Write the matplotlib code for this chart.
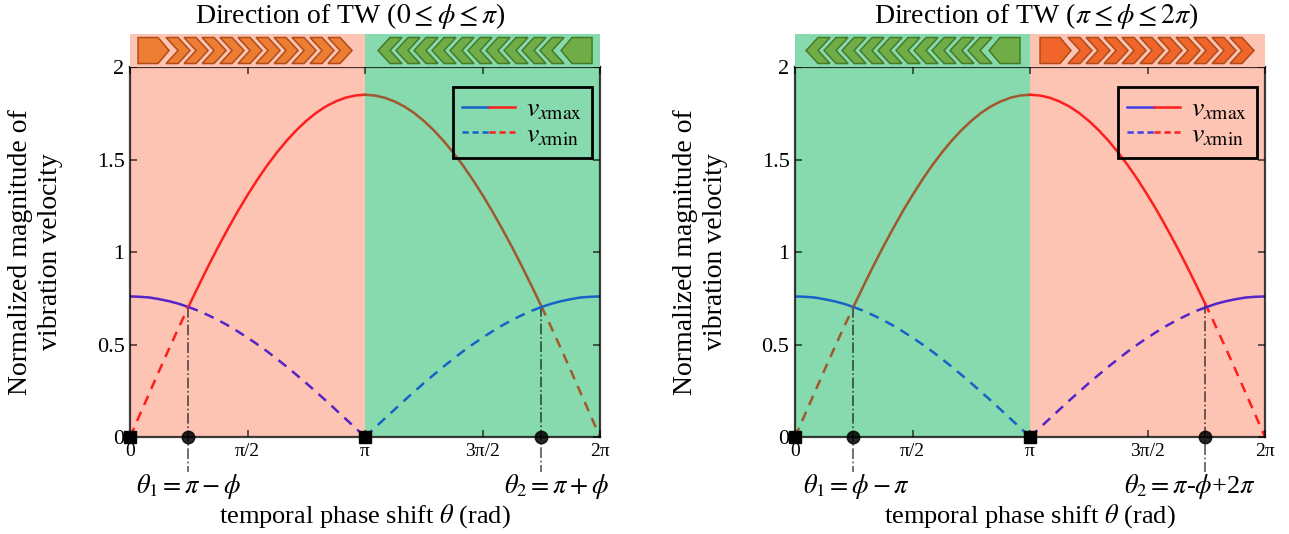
import numpy as np
import matplotlib
matplotlib.use("Agg")
import matplotlib.pyplot as plt
from matplotlib.lines import Line2D
from matplotlib.patches import Polygon, Rectangle
from matplotlib.legend_handler import HandlerTuple

plt.rcParams['font.family'] = ['Liberation Serif', 'DejaVu Serif']
plt.rcParams['mathtext.fontset'] = 'stix'

# sample points of theta (multiples of pi/24) and values
theta = np.arange(49) * np.pi / 24
amp_a = [0.000, 0.121, 0.241, 0.361, 0.479, 0.595, 0.708, 0.818, 0.925, 1.028, 1.126, 1.220,
         1.308, 1.391, 1.468, 1.538, 1.602, 1.659, 1.709, 1.752, 1.787, 1.814, 1.834, 1.846,
         1.850,
         1.846, 1.834, 1.814, 1.787, 1.752, 1.709, 1.659, 1.602, 1.538, 1.468, 1.391, 1.308,
         1.220, 1.126, 1.028, 0.925, 0.818, 0.708, 0.595, 0.479, 0.361, 0.241, 0.121, 0.000]
amp_b = [0.760, 0.758, 0.754, 0.745, 0.734, 0.720, 0.702, 0.682, 0.658, 0.632, 0.603, 0.571,
         0.537, 0.501, 0.463, 0.422, 0.380, 0.336, 0.291, 0.244, 0.197, 0.148, 0.099, 0.050,
         0.000,
         0.050, 0.099, 0.148, 0.197, 0.244, 0.291, 0.336, 0.380, 0.422, 0.463, 0.501, 0.537,
         0.571, 0.603, 0.632, 0.658, 0.682, 0.702, 0.720, 0.734, 0.745, 0.754, 0.758, 0.760]

# crossing points
cross_left = [0.78, 5.50]
cross_right = [0.78, 5.48]

titles = [r"Direction of TW ($0 \leq \phi \leq \pi$)", r"Direction of TW ($\pi \leq \phi \leq 2\pi$)"]
theta_labels_left = [r"$\theta_1 = \pi - \phi$", r"$\theta_2 = \pi + \phi$"]
theta_labels_right = [r"$\theta_1 = \phi - \pi$", r"$\theta_2 = \pi$-$\phi$+2$\pi$"]
xtick_vals = [0, np.pi / 2, np.pi, 3 * np.pi / 2, 2 * np.pi]
xtick_labels = ["0", "π/2", "π", "3π/2", "2π"]
ytick_vals = [0, 0.5, 1, 1.5, 2]
ytick_labels = ["0", "0.5", "1", "1.5", "2"]

PINK = '#FDC3B3'
GREEN = '#87D9AE'
RED = '#FF1E1E'
PURPLE = '#5424C8'
BLUE = '#1563C8'
BROWN = '#A0582E'
DASH = (0, (4, 3))


def piece(x, y, a, b):
    x = np.asarray(x)
    m = (x > a) & (x < b)
    xs = np.r_[a, x[m], b]
    return xs, np.interp(xs, x, y)


def draw_bar(bax, orange_start, orange_col):
    # decorative arrow strip, units are pixels of the strip (470 wide, 33 high)
    bax.set_xlim(0, 470)
    bax.set_ylim(0, 33)
    bax.axis('off')
    if orange_start < 100:
        bax.add_patch(Rectangle((0, 0), 235, 33, color=PINK, lw=0))
        bax.add_patch(Rectangle((235, 0), 235, 33, color=GREEN, lw=0))
    else:
        bax.add_patch(Rectangle((0, 0), 235, 33, color=GREEN, lw=0))
        bax.add_patch(Rectangle((235, 0), 235, 33, color=PINK, lw=0))
    o = orange_start
    shapes = [[(o, 3.5), (o, 29.5), (o + 20, 29.5), (o + 31, 16.5), (o + 20, 3.5)]]
    for i in range(10):
        xb = o + 28 + i * 18
        shapes.append([(xb, 29.5), (xb + 12, 29.5), (xb + 24, 16.5), (xb + 12, 3.5),
                       (xb, 3.5), (xb + 12, 16.5)])
    for s in shapes:
        bax.add_patch(Polygon(s, closed=True, facecolor=orange_col, edgecolor='#B04C18', lw=1.1))
        mirrored = [(470 - px, py) for px, py in s]
        bax.add_patch(Polygon(mirrored, closed=True, facecolor='#70AD47', edgecolor='#467A28', lw=1.1))


def draw_panel(ax, cross, pink_first, tlabels, label_dx):
    c1, c2 = cross
    pi = np.pi
    if pink_first:
        ax.axvspan(0, pi, color=PINK, lw=0, zorder=0)
        ax.axvspan(pi, 2 * pi, color=GREEN, lw=0, zorder=0)
    else:
        ax.axvspan(0, pi, color=GREEN, lw=0, zorder=0)
        ax.axvspan(pi, 2 * pi, color=PINK, lw=0, zorder=0)

    def cols(first_half):
        pinkish = first_half == pink_first
        return (RED, PURPLE) if pinkish else (BROWN, BLUE)

    segs = [(0, c1, True), (c1, pi, True), (pi, c2, False), (c2, 2 * pi, False)]
    for k, (a, b, first) in enumerate(segs):
        ca, cb = cols(first)
        a_is_max = k in (1, 2)
        xa, ya = piece(theta, amp_a, a, b)
        xb, yb = piece(theta, amp_b, a, b)
        ax.plot(xa, ya, color=ca, lw=1.8, ls='-' if a_is_max else DASH, zorder=3)
        ax.plot(xb, yb, color=cb, lw=1.8, ls=DASH if a_is_max else '-', zorder=3)

    for c, lab, dx in zip(cross, tlabels, label_dx):
        yc = np.interp(c, theta, amp_a)
        ax.plot([c, c], [yc, -0.19], color='black', alpha=0.65, lw=1.2, ls='-.', clip_on=False, zorder=2)
        ax.plot(c, 0, 'o', color='black', alpha=0.85, ms=9, clip_on=False, zorder=5)
        ax.text(c + dx, -0.27, lab, ha='center', va='center', fontsize=19)
    ax.plot([0, pi], [0, 0], 's', color='black', ms=8, clip_on=False, zorder=5, ls='none')

    ax.set_xlim(0, 2 * pi)
    ax.set_ylim(0, 2)
    ax.set_facecolor('none')
    ax.set_xticks(xtick_vals, xtick_labels, fontsize=14)
    ax.set_yticks(ytick_vals, ytick_labels, fontsize=16)
    ax.tick_params(direction='in', top=True, right=True, length=5, width=1.2, pad=4,
                   color=(0, 0, 0, 0.7))
    for sp in ax.spines.values():
        sp.set_color((0, 0, 0, 0.75))
        sp.set_linewidth(1.6)
        sp.set_zorder(4)
    ax.set_ylabel("Normalized magnitude of\nvibration velocity", fontsize=20, labelpad=24,
                  linespacing=1.3)
    ax.set_xlabel(r"temporal phase shift $\theta$ (rad)", fontsize=19)
    ax.xaxis.set_label_coords(0.5, -0.175)

    lc = BLUE if pink_first else '#4040E8'
    h1 = (Line2D([], [], color=lc, lw=1.8), Line2D([], [], color=RED, lw=1.8))
    h2 = (Line2D([], [], color=lc, lw=1.8, ls=(0, (2.5, 1.5))),
          Line2D([], [], color=RED, lw=1.8, ls=(0, (2.5, 1.5))))
    leg = ax.legend([h1, h2], [r"$v_{x\mathrm{max}}$", r"$v_{x\mathrm{min}}$"],
                    handler_map={tuple: HandlerTuple(ndivide=None, pad=0)},
                    loc='upper right', bbox_to_anchor=(0.983, 0.945), borderaxespad=0,
                    fontsize=20, fancybox=False, edgecolor='black', facecolor='none',
                    framealpha=1, handlelength=1.9, labelspacing=0.0, borderpad=0.35,
                    handletextpad=0.4)
    leg.get_frame().set_linewidth(2)
    leg.set_zorder(6)


fig = plt.figure(figsize=(12.89, 5.34), dpi=100)
ax1 = fig.add_axes([0.1009, 0.1816, 0.3646, 0.6929])
ax2 = fig.add_axes([0.6168, 0.1816, 0.3646, 0.6929])
bar1 = fig.add_axes([0.1009, 0.8745, 0.3646, 0.0618])
bar2 = fig.add_axes([0.6168, 0.8745, 0.3646, 0.0618])

draw_panel(ax1, cross_left, True, theta_labels_left, [0.0, 0.2])
draw_panel(ax2, cross_right, False, theta_labels_right, [0.04, -0.2])
draw_bar(bar1, 8, '#EC7D33')
draw_bar(bar2, 245, '#F0652A')

fig.text(350 / 1289, 1 - 16 / 534, titles[0], ha='center', va='center', fontsize=20)
fig.text(1036 / 1289, 1 - 16 / 534, titles[1], ha='center', va='center', fontsize=20)

fig.savefig("out.png", dpi=100)
